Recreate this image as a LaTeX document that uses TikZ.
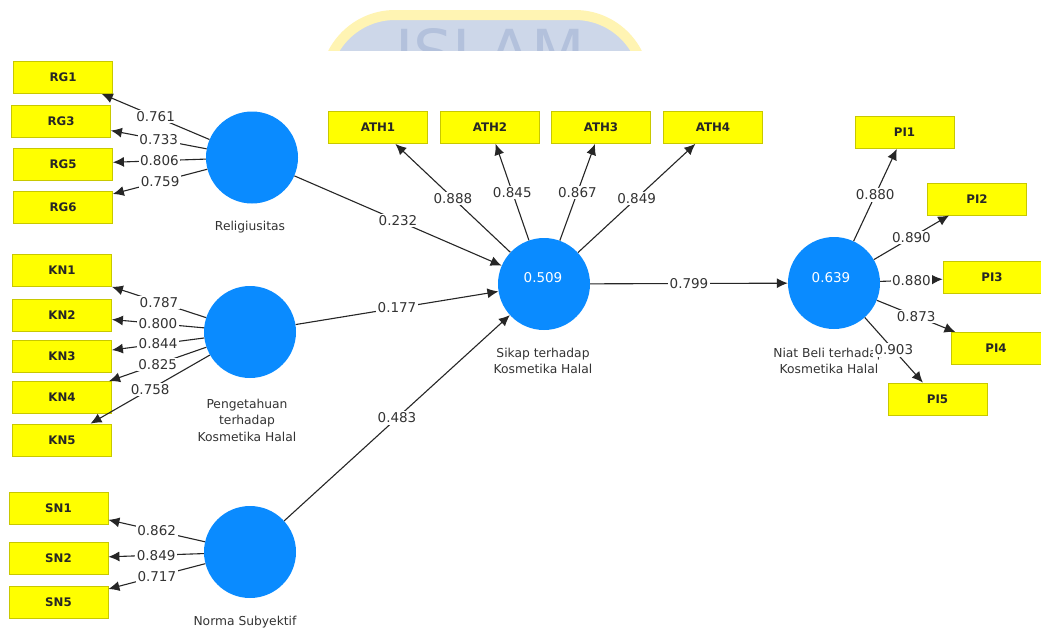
\documentclass[tikz,border=0pt]{standalone}
\usepackage{fontspec}
\setmainfont{DejaVu Sans}
\usetikzlibrary{arrows.meta}
\definecolor{plsblue}{HTML}{0A8BFF}
\definecolor{indyellow}{HTML}{FFFF00}
\definecolor{indborder}{HTML}{C8C800}
\definecolor{txt}{HTML}{333333}
\definecolor{wmyellow}{HTML}{FFF4B3}
\definecolor{wmblue}{HTML}{CDD7E9}
\definecolor{wmtext}{HTML}{B3C1DC}
\begin{document}
\begin{tikzpicture}[x=1pt,y=-1pt,
 ind/.style={draw=indborder, fill=indyellow, line width=0.8pt, minimum width=99pt, minimum height=32pt, inner sep=0pt, font=\fontsize{11.8}{13}\selectfont\bfseries, text=black!85},
 lv/.style={circle, fill=plsblue, minimum size=92pt, inner sep=0pt},
 lvname/.style={align=center, font=\fontsize{12.3}{16.5}\selectfont, text=txt, inner sep=0pt},
 rsq/.style={text=white, font=\fontsize{13.5}{15}\selectfont, inner sep=0pt},
 load/.style={draw=black!85, line width=1.1pt, -{Latex[length=11pt,width=10pt]}},
 val/.style={fill=white, inner sep=1.5pt, font=\fontsize{13.5}{15}\selectfont, text=txt},
]
\useasboundingbox (0,0) rectangle (1041,630);
\fill[white] (0,0) rectangle (1041,630);
% watermark
\begin{scope}
\clip (290,0) rectangle (700,50);
\draw[draw=wmyellow, line width=10pt, fill=wmblue, rounded corners=70pt]
  (325,140) -- (325,15) -- (645,15) -- (645,140) -- cycle;
\node[anchor=north, inner sep=0pt, text=wmtext, font=\fontsize{62}{62}\selectfont] (wm) at (490,28) {ISLAM};
\end{scope}
% latent variables
\node[lv] (rel) at (252,157.5) {};
\node[lv] (pen) at (250,332) {};
\node[lv] (nor) at (250,552) {};
\node[lv] (sik) at (544,284) {};
\node[lv] (niat) at (834,283) {};
\node[rsq] (sikr) at (543,278) {0.509};
\node[rsq] (niatr) at (831,278) {0.639};
\node[lvname] (reln) at (250,227) {Religiusitas};
\node[lvname] (penn) at (247,420) {Pengetahuan\\terhadap\\Kosmetika Halal};
\node[lvname] (norn) at (245,622) {Norma Subyektif};
\node[lvname] (sikn) at (543,361) {Sikap terhadap\\Kosmetika Halal};
\node[lvname] (niatn) at (829,361) {Niat Beli terhadap\\Kosmetika Halal};
% indicators
\node[ind] (RG1) at (63,77.5) {RG1};
\node[ind] (RG3) at (61,121) {RG3};
\node[ind] (RG5) at (63,164) {RG5};
\node[ind] (RG6) at (63,207) {RG6};
\node[ind] (KN1) at (62,270.5) {KN1};
\node[ind] (KN2) at (62,315) {KN2};
\node[ind] (KN3) at (62,356.5) {KN3};
\node[ind] (KN4) at (62,397.5) {KN4};
\node[ind] (KN5) at (62,440) {KN5};
\node[ind] (SN1) at (58.5,508.5) {SN1};
\node[ind] (SN2) at (58.5,558.5) {SN2};
\node[ind] (SN5) at (58.5,602) {SN5};
\node[ind] (ATH1) at (378,127.5) {ATH1};
\node[ind] (ATH2) at (490,127.5) {ATH2};
\node[ind] (ATH3) at (601,127.5) {ATH3};
\node[ind] (ATH4) at (713,127.5) {ATH4};
\node[ind] (PI1) at (904.5,132.5) {PI1};
\node[ind] (PI2) at (977,199) {PI2};
\node[ind, minimum width=98pt] (PI3) at (992,277.5) {PI3};
\node[ind, minimum width=90pt] (PI4) at (996,348.5) {PI4};
\node[ind] (PI5) at (937.5,399) {PI5};
% outer loadings
\draw[load] (rel) -- node[val] {0.761} (RG1);
\draw[load] (rel) -- node[val] {0.733} (RG3);
\draw[load] (rel) -- node[val] {0.806} (RG5);
\draw[load] (rel) -- node[val] {0.759} (RG6);
\draw[load] (pen) -- node[val] {0.787} (KN1);
\draw[load] (pen) -- node[val] {0.800} (KN2);
\draw[load] (pen) -- node[val] {0.844} (KN3);
\draw[load] (pen) -- node[val] {0.825} (KN4);
\draw[load] (pen) -- node[val] {0.758} (KN5);
\draw[load] (nor) -- node[val] {0.862} (SN1);
\draw[load] (nor) -- node[val] {0.849} (SN2);
\draw[load] (nor) -- node[val] {0.717} (SN5);
\draw[load] (sik) -- node[val] {0.888} (ATH1);
\draw[load] (sik) -- node[val] {0.845} (ATH2);
\draw[load] (sik) -- node[val] {0.867} (ATH3);
\draw[load] (sik) -- node[val] {0.849} (ATH4);
\draw[load] (niat) -- node[val] {0.880} (PI1);
\draw[load] (niat) -- node[val] {0.890} (PI2);
\draw[load] (niat) -- node[val] {0.880} (PI3);
\draw[load] (niat) -- node[val] {0.873} (PI4);
\draw[load] (niat) -- node[val] {0.903} (PI5);
% path coefficients
\draw[load] (rel) -- node[val] {0.232} (sik);
\draw[load] (pen) -- node[val] {0.177} (sik);
\draw[load] (nor) -- node[val] {0.483} (sik);
\draw[load] (sik) -- node[val] {0.799} (niat);
\end{tikzpicture}
\end{document}
